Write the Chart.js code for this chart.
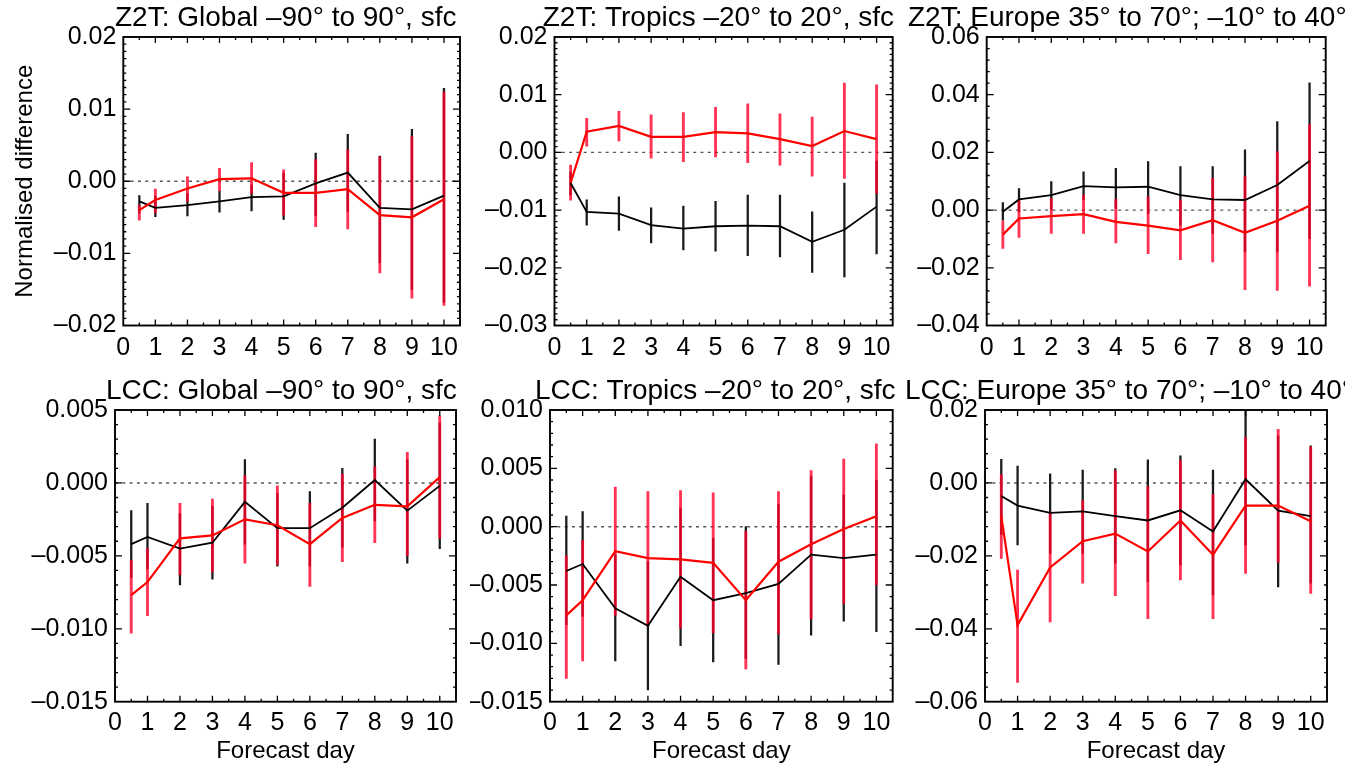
<!DOCTYPE html>
<html>
<head>
<meta charset="utf-8">
<title>Normalised difference by forecast day</title>
<script src="https://cdn.jsdelivr.net/npm/chart.js@4.4.1/dist/chart.umd.min.js"></script>
<style>
    html, body { margin: 0; padding: 0; background: #fff; overflow: hidden; width: 1345px; height: 764px; }
    canvas { position: absolute; }
</style>
</head>
<body>
<canvas id="z2tGlobal"></canvas>
<canvas id="z2tTropics"></canvas>
<canvas id="z2tEurope"></canvas>
<canvas id="lccGlobal"></canvas>
<canvas id="lccTropics"></canvas>
<canvas id="lccEurope"></canvas>
<script>
// forecast days (x positions of every point)
const forecastDays = [0.5, 1, 2, 3, 4, 5, 6, 7, 8, 9, 10];

// Z2T: Global
const z2tGlobalBlack   = [-0.0028, -0.0037, -0.0033, -0.0028, -0.0022, -0.0021, -0.0003, 0.0012, -0.0037, -0.0039, -0.0020];
const z2tGlobalBlackLo = [-0.0044, -0.0049, -0.0048, -0.0043, -0.0041, -0.0053, -0.0048, -0.0042, -0.0113, -0.0150, -0.0168];
const z2tGlobalBlackHi = [-0.0020, -0.0021, -0.0017, -0.0014, -0.0005, 0.0011, 0.0039, 0.0065, 0.0035, 0.0072, 0.0129];
const z2tGlobalRed     = [-0.0040, -0.0026, -0.0010, 0.0003, 0.0004, -0.0016, -0.0016, -0.0011, -0.0047, -0.0050, -0.0025];
const z2tGlobalRedLo   = [-0.0054, -0.0044, -0.0028, -0.0013, -0.0017, -0.0047, -0.0063, -0.0066, -0.0127, -0.0162, -0.0172];
const z2tGlobalRedHi   = [-0.0033, -0.0011, 0.0006, 0.0018, 0.0026, 0.0016, 0.0030, 0.0044, 0.0034, 0.0062, 0.0124];

// Z2T: Tropics
const z2tTropicsBlack   = [-0.0053, -0.0103, -0.0106, -0.0126, -0.0132, -0.0128, -0.0127, -0.0128, -0.0155, -0.0134, -0.0094];
const z2tTropicsBlackLo = [-0.0074, -0.0126, -0.0135, -0.0157, -0.0169, -0.0171, -0.0179, -0.0181, -0.0208, -0.0216, -0.0176];
const z2tTropicsBlackHi = [-0.0034, -0.0082, -0.0077, -0.0096, -0.0093, -0.0085, -0.0074, -0.0074, -0.0103, -0.0053, -0.0015];
const z2tTropicsRed     = [-0.0053, 0.0036, 0.0046, 0.0027, 0.0027, 0.0035, 0.0033, 0.0023, 0.0011, 0.0037, 0.0023];
const z2tTropicsRedLo   = [-0.0083, 0.0011, 0.0020, -0.0010, -0.0016, -0.0008, -0.0018, -0.0022, -0.0041, -0.0045, -0.0071];
const z2tTropicsRedHi   = [-0.0022, 0.0059, 0.0071, 0.0065, 0.0069, 0.0078, 0.0084, 0.0067, 0.0061, 0.0120, 0.0117];

// Z2T: Europe
const z2tEuropeBlack   = [-0.0006, 0.0037, 0.0052, 0.0083, 0.0079, 0.0081, 0.0052, 0.0037, 0.0035, 0.0087, 0.0170];
const z2tEuropeBlackLo = [-0.0035, -0.0006, 0.0002, 0.0035, 0.0006, -0.0012, -0.0052, -0.0081, -0.0145, -0.0145, -0.0099];
const z2tEuropeBlackHi = [0.0026, 0.0075, 0.0099, 0.0133, 0.0145, 0.0168, 0.0151, 0.0151, 0.0209, 0.0307, 0.0441];
const z2tEuropeRed     = [-0.0085, -0.0029, -0.0021, -0.0014, -0.0041, -0.0054, -0.0070, -0.0035, -0.0079, -0.0037, 0.0015];
const z2tEuropeRedLo   = [-0.0133, -0.0095, -0.0081, -0.0081, -0.0114, -0.0151, -0.0172, -0.0180, -0.0276, -0.0278, -0.0264];
const z2tEuropeRedHi   = [-0.0037, 0.0035, 0.0041, 0.0052, 0.0037, 0.0046, 0.0035, 0.0110, 0.0116, 0.0203, 0.0296];

// LCC: Global
const lccGlobalBlack   = [-0.0042, -0.0037, -0.0045, -0.0041, -0.0013, -0.0031, -0.0031, -0.0017, 0.0002, -0.0019, -0.0002];
const lccGlobalBlackLo = [-0.0065, -0.0059, -0.0070, -0.0066, -0.0042, -0.0057, -0.0057, -0.0044, -0.0026, -0.0055, -0.0045];
const lccGlobalBlackHi = [-0.0019, -0.0014, -0.0021, -0.0016, 0.0016, -0.0007, -0.0006, 0.0010, 0.0030, 0.0016, 0.0041];
const lccGlobalRed     = [-0.0077, -0.0068, -0.0038, -0.0036, -0.0025, -0.0029, -0.0042, -0.0024, -0.0015, -0.0016, 0.0004];
const lccGlobalRedLo   = [-0.0103, -0.0091, -0.0063, -0.0061, -0.0055, -0.0056, -0.0071, -0.0054, -0.0041, -0.0050, -0.0038];
const lccGlobalRedHi   = [-0.0053, -0.0045, -0.0014, -0.0011, 0.0005, -0.0002, -0.0014, 0.0006, 0.0011, 0.0021, 0.0046];

// LCC: Tropics
const lccTropicsBlack   = [-0.0038, -0.0032, -0.0070, -0.0085, -0.0043, -0.0063, -0.0057, -0.0049, -0.0024, -0.0027, -0.0024];
const lccTropicsBlackLo = [-0.0084, -0.0077, -0.0115, -0.0140, -0.0102, -0.0116, -0.0113, -0.0118, -0.0093, -0.0081, -0.0090];
const lccTropicsBlackHi = [0.0009, 0.0013, -0.0024, -0.0030, 0.0016, -0.0010, 0.0000, 0.0019, 0.0043, 0.0027, 0.0040];
const lccTropicsRed     = [-0.0076, -0.0063, -0.0021, -0.0027, -0.0028, -0.0031, -0.0063, -0.0030, -0.0015, -0.0002, 0.0009];
const lccTropicsRedLo   = [-0.0130, -0.0115, -0.0076, -0.0085, -0.0087, -0.0091, -0.0122, -0.0092, -0.0079, -0.0066, -0.0050];
const lccTropicsRedHi   = [-0.0025, -0.0012, 0.0034, 0.0030, 0.0031, 0.0029, -0.0004, 0.0030, 0.0048, 0.0058, 0.0071];

// LCC: Europe
const lccEuropeBlack   = [-0.0036, -0.0062, -0.0082, -0.0078, -0.0091, -0.0103, -0.0075, -0.0133, 0.0010, -0.0076, -0.0091];
const lccEuropeBlackLo = [-0.0142, -0.0170, -0.0193, -0.0193, -0.0220, -0.0271, -0.0225, -0.0307, -0.0170, -0.0285, -0.0275];
const lccEuropeBlackHi = [0.0065, 0.0046, 0.0025, 0.0035, 0.0039, 0.0063, 0.0074, 0.0035, 0.0203, 0.0129, 0.0102];
const lccEuropeRed     = [-0.0091, -0.0390, -0.0232, -0.0160, -0.0139, -0.0188, -0.0103, -0.0197, -0.0062, -0.0062, -0.0105];
const lccEuropeRedLo   = [-0.0207, -0.0547, -0.0381, -0.0275, -0.0309, -0.0372, -0.0266, -0.0372, -0.0248, -0.0218, -0.0303];
const lccEuropeRedHi   = [0.0023, -0.0239, -0.0080, -0.0048, 0.0033, -0.0009, 0.0062, -0.0032, 0.0125, 0.0147, 0.0099];

const FONT = "'Liberation Sans', Arial, Helvetica, sans-serif";
Chart.defaults.font.family = FONT;
Chart.defaults.font.size = 25;
Chart.defaults.color = '#000';

// row layouts (canvas top, height, plot top offset, x axis height, tick label gap, title baseline)
const topRow    = { top: 0,   h: 375, pt: 37, xh: 49.5, tickPad: 7.5, titleY: 26, xTitle: false };
const bottomRow = { top: 375, h: 389, pt: 35, xh: 62.3, tickPad: 6.5, titleY: 24, xTitle: true };

const panels = [
    { id: 'z2tGlobal', row: topRow, left: 0, w: 470, yw: 123.3, pr: 10, titleX: 115,
      title: 'Z2T: Global \u201390\u00b0 to 90\u00b0, sfc', yMin: -0.02, yMax: 0.02, major: 0.01, minor: 0.001, digits: 2, yTitle: true,
      black: z2tGlobalBlack, blackLo: z2tGlobalBlackLo, blackHi: z2tGlobalBlackHi, red: z2tGlobalRed, redLo: z2tGlobalRedLo, redHi: z2tGlobalRedHi },
    { id: 'z2tTropics', row: topRow, left: 470, w: 430, yw: 84.5, pr: 7.3, titleX: 72.7,
      title: 'Z2T: Tropics \u201320\u00b0 to 20\u00b0, sfc', yMin: -0.03, yMax: 0.02, major: 0.01, minor: 0.001, digits: 2,
      black: z2tTropicsBlack, blackLo: z2tTropicsBlackLo, blackHi: z2tTropicsBlackHi, red: z2tTropicsRed, redLo: z2tTropicsRedLo, redHi: z2tTropicsRedHi },
    { id: 'z2tEurope', row: topRow, left: 900, w: 500, yw: 86.7, pr: 74.3, titleX: 8,
      title: 'Z2T: Europe 35\u00b0 to 70\u00b0; \u201310\u00b0 to 40\u00b0', yMin: -0.04, yMax: 0.06, major: 0.02, minor: 0.004, digits: 2,
      black: z2tEuropeBlack, blackLo: z2tEuropeBlackLo, blackHi: z2tEuropeBlackHi, red: z2tEuropeRed, redLo: z2tEuropeRedLo, redHi: z2tEuropeRedHi },
    { id: 'lccGlobal', row: bottomRow, left: 0, w: 470, yw: 115, pr: 14, titleX: 106,
      title: 'LCC: Global \u201390\u00b0 to 90\u00b0, sfc', yMin: -0.015, yMax: 0.005, major: 0.005, minor: 0.001, digits: 3,
      black: lccGlobalBlack, blackLo: lccGlobalBlackLo, blackHi: lccGlobalBlackHi, red: lccGlobalRed, redLo: lccGlobalRedLo, redHi: lccGlobalRedHi },
    { id: 'lccTropics', row: bottomRow, left: 470, w: 430, yw: 80, pr: 7.3, titleX: 65,
      title: 'LCC: Tropics \u201320\u00b0 to 20\u00b0, sfc', yMin: -0.015, yMax: 0.010, major: 0.005, minor: 0.001, digits: 3,
      black: lccTropicsBlack, blackLo: lccTropicsBlackLo, blackHi: lccTropicsBlackHi, red: lccTropicsRed, redLo: lccTropicsRedLo, redHi: lccTropicsRedHi },
    { id: 'lccEurope', row: bottomRow, left: 900, w: 500, yw: 85, pr: 73, titleX: 5,
      title: 'LCC: Europe 35\u00b0 to 70\u00b0; \u201310\u00b0 to 40\u00b0', yMin: -0.06, yMax: 0.02, major: 0.02, minor: 0.004, digits: 2,
      black: lccEuropeBlack, blackLo: lccEuropeBlackLo, blackHi: lccEuropeBlackHi, red: lccEuropeRed, redLo: lccEuropeRedLo, redHi: lccEuropeRedHi }
];

function fmtTick(value, digits) {
    if (Math.abs(value) < 1e-12) value = 0;
    const s = Math.abs(value).toFixed(digits);
    return value < 0 ? '\u2013' + s : s;
}

// IDL style box: dotted zero line, frame with inward ticks on all four sides, panel title
const idlFrame = {
    id: 'idlFrame',
    beforeDatasetsDraw(chart) {
        const { ctx, chartArea: a, scales: { y } } = chart;
        const y0 = y.getPixelForValue(0);
        ctx.save();
        ctx.strokeStyle = '#555';
        ctx.lineWidth = 1.4;
        ctx.setLineDash([3, 4.3]);
        ctx.beginPath();
        ctx.moveTo(a.left, y0);
        ctx.lineTo(a.right, y0);
        ctx.stroke();
        ctx.restore();
    },
    afterDraw(chart, args, opts) {
        const { ctx, chartArea: a, scales: { x, y } } = chart;
        ctx.save();
        ctx.strokeStyle = '#000';
        ctx.lineWidth = 1.3;
        ctx.beginPath();
        for (let i = 1; i <= 20; i++) {
            const v = i / 2;
            const px = x.getPixelForValue(v);
            const len = i % 2 === 0 ? 6 : 3;
            ctx.moveTo(px, a.bottom); ctx.lineTo(px, a.bottom - len);
            ctx.moveTo(px, a.top); ctx.lineTo(px, a.top + len);
        }
        const n = Math.round((y.max - y.min) / opts.minor);
        const per = Math.round(opts.major / opts.minor);
        for (let i = 1; i < n; i++) {
            const py = y.getPixelForValue(y.min + i * opts.minor);
            const len = i % per === 0 ? 7 : 3;
            ctx.moveTo(a.left, py); ctx.lineTo(a.left + len, py);
            ctx.moveTo(a.right, py); ctx.lineTo(a.right - len, py);
        }
        ctx.stroke();
        ctx.lineWidth = 1.9;
        ctx.strokeRect(a.left, a.top, a.right - a.left, a.bottom - a.top);

        ctx.fillStyle = '#000';
        ctx.font = '28px ' + FONT;
        ctx.textAlign = 'left';
        ctx.textBaseline = 'alphabetic';
        ctx.fillText(opts.title, opts.titleX, opts.titleY);
        ctx.restore();
    }
};

function points(values) {
    return forecastDays.map((d, i) => ({ x: d, y: values[i] }));
}

function ranges(lo, hi) {
    return forecastDays.map((d, i) => ({ x: d, y: [lo[i], hi[i]] }));
}

function createPanel(p) {
    const row = p.row;
    const canvas = document.getElementById(p.id);
    canvas.width = p.w;
    canvas.height = row.h;
    canvas.style.left = p.left + 'px';
    canvas.style.top = row.top + 'px';

    new Chart(canvas.getContext('2d'), {
        type: 'line',
        data: {
            datasets: [
                {
                    label: 'red',
                    data: points(p.red),
                    borderColor: '#ff0000',
                    borderWidth: 2.2,
                    pointRadius: 0,
                    tension: 0,
                    order: 0
                },
                {
                    label: 'black',
                    data: points(p.black),
                    borderColor: '#000',
                    borderWidth: 1.8,
                    pointRadius: 0,
                    tension: 0,
                    order: 1
                },
                {
                    type: 'bar',
                    label: 'red range',
                    data: ranges(p.redLo, p.redHi),
                    backgroundColor: 'rgba(255, 0, 40, 0.8)',
                    borderWidth: 0,
                    barThickness: 2.2,
                    grouped: false,
                    order: 2
                },
                {
                    type: 'bar',
                    label: 'black range',
                    data: ranges(p.blackLo, p.blackHi),
                    backgroundColor: '#1a1a1a',
                    borderWidth: 0,
                    barThickness: 1.6,
                    grouped: false,
                    order: 3
                }
            ]
        },
        options: {
            responsive: false,
            animation: false,
            events: [],
            layout: {
                padding: { left: 0, right: p.pr, top: row.pt, bottom: 0 }
            },
            plugins: {
                legend: { display: false },
                tooltip: { enabled: false },
                idlFrame: {
                    title: p.title,
                    titleX: p.titleX,
                    titleY: row.titleY,
                    major: p.major,
                    minor: p.minor
                }
            },
            scales: {
                x: {
                    type: 'linear',
                    min: 0,
                    max: 10.5,
                    offset: false,
                    grid: { display: false, drawTicks: false },
                    border: { display: false },
                    ticks: {
                        stepSize: 1,
                        includeBounds: false,
                        autoSkip: false,
                        maxRotation: 0,
                        padding: row.tickPad,
                        font: { size: 25 }
                    },
                    title: {
                        display: row.xTitle,
                        text: 'Forecast day',
                        font: { size: 24, lineHeight: 1 },
                        padding: { top: 0, bottom: 1 }
                    },
                    afterFit(scale) {
                        scale.height = row.xh;
                        scale.paddingLeft = 0;
                        scale.paddingRight = 0;
                    }
                },
                y: {
                    type: 'linear',
                    min: p.yMin,
                    max: p.yMax,
                    grid: { display: false, drawTicks: false },
                    border: { display: false },
                    ticks: {
                        stepSize: p.major,
                        padding: 7,
                        font: { size: 25 },
                        callback: (value) => fmtTick(value, p.digits)
                    },
                    title: {
                        display: !!p.yTitle,
                        text: 'Normalised difference',
                        font: { size: 24, lineHeight: 1 },
                        padding: { top: 13, bottom: 0 }
                    },
                    afterFit(scale) {
                        scale.width = p.yw;
                        scale.paddingTop = 0;
                        scale.paddingBottom = 0;
                    }
                }
            }
        },
        plugins: [idlFrame]
    });
}

panels.forEach(createPanel);
</script>
</body>
</html>
